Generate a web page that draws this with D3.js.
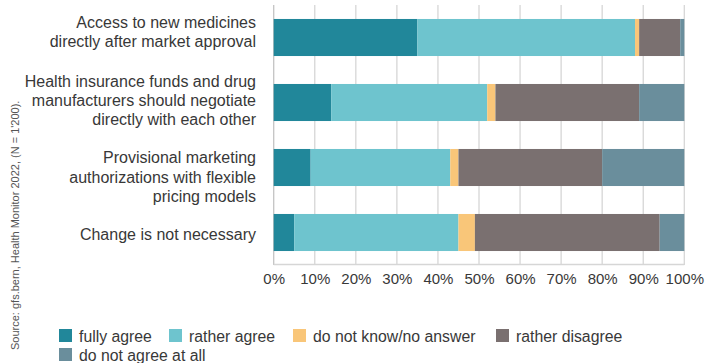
<!DOCTYPE html>
<html><head><meta charset="utf-8">
<script src="https://cdn.jsdelivr.net/npm/d3@7"></script>
<style>body{margin:0;background:#fff}svg{display:block}text{font-family:"Liberation Sans",Arial,sans-serif}</style>
</head><body><svg id="c" width="718" height="363"></svg>
<script>
const categories = [
  ["Access to new medicines","directly after market approval"],
  ["Health insurance funds and drug","manufacturers should negotiate","directly with each other"],
  ["Provisional marketing","authorizations with flexible","pricing models"],
  ["Change is not necessary"]
];
const seriesNames = ["fully agree","rather agree","do not know/no answer","rather disagree","do not agree at all"];
const fullyAgree = [35,14,9,5];
const ratherAgree = [53,38,34,40];
const dontKnow = [1,2,2,4];
const ratherDisagree = [10,35,35,45];
const notAtAll = [1,11,20,6];
const tickValues = [0,10,20,30,40,50,60,70,80,90,100];
const colors = ["#21879a","#6ec4ce","#f9c679","#7a7070","#6a8e9c"];

const svg = d3.select("#c");
const x = d3.scaleLinear().domain([0,100]).range([273.7,684.3]);
const y = d3.scaleBand().domain(d3.range(categories.length)).range([5,265]).paddingInner(0.43).paddingOuter(0.215);
const series = [fullyAgree,ratherAgree,dontKnow,ratherDisagree,notAtAll];
const rows = categories.map((c,i)=>{const o={i}; seriesNames.forEach((s,j)=>o[s]=series[j][i]); return o;});
const stacked = d3.stack().keys(seriesNames)(rows);

// gridlines
svg.append("g").selectAll("line").data(tickValues).join("line")
  .attr("x1",d=>x(d)).attr("x2",d=>x(d)).attr("y1",5).attr("y2",265)
  .attr("stroke",d=>d===0?"#c4c4c4":"#d6d6d6").attr("stroke-width",1.3);
svg.append("line").attr("x1",x(0)).attr("x2",x(100)).attr("y1",264.5).attr("y2",264.5).attr("stroke","#d6d6d6").attr("stroke-width",1.3);

svg.append("g").selectAll("g").data(stacked).join("g").attr("fill",(d,i)=>colors[i])
  .selectAll("rect").data(d=>d).join("rect")
  .attr("x",d=>x(d[0])).attr("width",d=>x(d[1])-x(d[0]))
  .attr("y",d=>y(d.data.i)).attr("height",y.bandwidth());

// x axis
const ax = svg.append("g").attr("transform","translate(0,265)")
  .call(d3.axisBottom(x).tickValues(tickValues).tickFormat(d=>d+"%").tickSize(0).tickPadding(8));
ax.select(".domain").remove();
ax.selectAll("text").attr("font-size",15).attr("fill","#383838").attr("font-family","Liberation Sans, Arial, sans-serif");

// category labels (layout offsets as in the reference)
const lh = 19.2;
const labelShift = [-4.2,-0.9,10.9,3.6];
categories.forEach((lines,i)=>{
  const cy = y(i)+y.bandwidth()/2 + labelShift[i] + 4.2;
  const t = svg.append("text").attr("text-anchor","end").attr("font-size",16).attr("fill","#383838");
  lines.forEach((l,k)=>{
    t.append("tspan").attr("x",256).attr("y",cy + (k-(lines.length-1)/2)*lh).text(l);
  });
});

// legend
const legendPos = [[59,336],[169,336],[293,336],[496,336],[59,355]];
const lg = svg.append("g").selectAll("g").data(seriesNames).join("g")
  .attr("transform",(d,i)=>`translate(${legendPos[i][0]},${legendPos[i][1]})`);
lg.append("rect").attr("x",0).attr("y",-7).attr("width",13).attr("height",13).attr("fill",(d,i)=>colors[i]);
lg.append("text").attr("x",20).attr("y",5.5).attr("font-size",15.8).attr("fill","#383838").text(d=>d);

// source
svg.append("text").attr("transform","translate(19,350) rotate(-90)").attr("font-size",11).attr("fill","#555")
  .text("Source: gfs.bern, Health Monitor 2022, (N = 1'200).");
</script></body></html>
